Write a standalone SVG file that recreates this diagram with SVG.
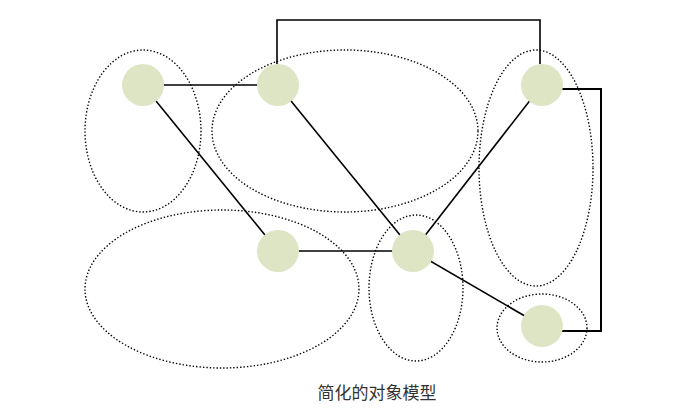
<svg xmlns="http://www.w3.org/2000/svg" width="694" height="414" viewBox="0 0 694 414">
<style>
.grp{fill:none;stroke:#000;stroke-width:1.4;stroke-dasharray:1.4 2}
.node{fill:#dde5c5;stroke:none}
.ln{fill:none;stroke:#000;stroke-width:1.6}
.cap{font-family:"Noto Sans CJK SC","Noto Sans",sans-serif;font-size:17px;fill:#333}
</style>
<rect width="694" height="414" fill="#fff"/>
<g id="groups">
<ellipse class="grp" cx="143" cy="131" rx="58" ry="81"/>
<ellipse class="grp" cx="345" cy="131" rx="133" ry="81"/>
<ellipse class="grp" cx="536" cy="168" rx="57" ry="118"/>
<ellipse class="grp" cx="222" cy="289" rx="137" ry="79"/>
<ellipse class="grp" cx="416" cy="288" rx="47" ry="73"/>
<ellipse class="grp" cx="542" cy="328" rx="45" ry="34"/>
</g>
<g id="connectors">
<line class="ln" x1="143" y1="85" x2="278" y2="85"/>
<line class="ln" x1="143" y1="85" x2="278" y2="251"/>
<line class="ln" x1="278" y1="85" x2="413" y2="251"/>
<line class="ln" x1="542" y1="85" x2="413" y2="251"/>
<line class="ln" x1="278" y1="251" x2="413" y2="251"/>
<line class="ln" x1="413" y1="251" x2="542" y2="326"/>
<polyline class="ln" points="277,64 277,20 540,20 540,64"/>
<polyline class="ln" style="stroke-width:2" points="560,89 601,89 601,331 560,331"/>
</g>
<g id="nodeA"><circle class="node" cx="143" cy="85" r="21"/></g>
<g id="nodeB"><circle class="node" cx="278" cy="85" r="21"/></g>
<g id="nodeC"><circle class="node" cx="542" cy="85" r="21"/></g>
<g id="nodeD"><circle class="node" cx="278" cy="251" r="21"/></g>
<g id="nodeE"><circle class="node" cx="413" cy="251" r="21"/></g>
<g id="nodeF"><circle class="node" cx="542" cy="326" r="21"/></g>
<text class="cap" x="377" y="399" text-anchor="middle">简化的对象模型</text>
</svg>
